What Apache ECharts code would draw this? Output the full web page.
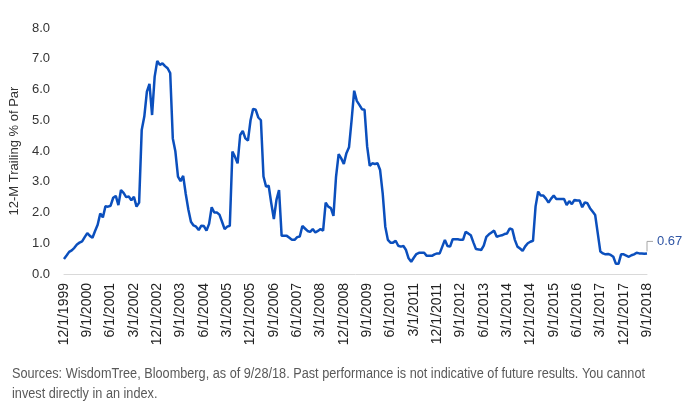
<!DOCTYPE html>
<html>
<head>
<meta charset="utf-8">
<script src="https://cdn.jsdelivr.net/npm/echarts@6/dist/echarts.min.js"></script>
<style>
  html, body { margin: 0; padding: 0; background: #fff; }
  #chart { width: 687px; height: 414px; }
</style>
</head>
<body>
<div id="chart"></div>
<script>
// monthly, 12/1999 .. 9/2018
const startYear = 1999;
const startMonth = 12;
const yTicks = [0, 1, 2, 3, 4, 5, 6, 7, 8];
const yName = '12-M Trailing % of Par';
const footnote = [
  'Sources: WisdomTree, Bloomberg, as of 9/28/18. Past performance is not indicative of future results. You cannot',
  'invest directly in an index.'
];

const trailingPar = [
  0.49, 0.60, 0.72, 0.77, 0.85, 0.96, 1.02, 1.06, 1.20, 1.33,
  1.24, 1.18, 1.40, 1.60, 1.97, 1.84, 2.20, 2.19, 2.22, 2.48,
  2.54, 2.24, 2.73, 2.64, 2.50, 2.52, 2.40, 2.51, 2.19, 2.32,
  4.68, 5.12, 5.93, 6.18, 5.17, 6.42, 6.93, 6.80, 6.85, 6.76,
  6.69, 6.53, 4.41, 3.98, 3.17, 3.02, 3.19, 2.60, 2.10, 1.70,
  1.58, 1.54, 1.43, 1.57, 1.56, 1.41, 1.63, 2.17, 2.00, 2.00,
  1.93, 1.70, 1.46, 1.54, 1.57, 3.98, 3.81, 3.60, 4.52, 4.65,
  4.41, 4.34, 5.00, 5.37, 5.34, 5.09, 5.00, 3.17, 2.84, 2.87,
  2.30, 1.79, 2.41, 2.73, 1.24, 1.24, 1.24, 1.18, 1.11, 1.11,
  1.20, 1.22, 1.56, 1.48, 1.40, 1.37, 1.46, 1.35, 1.40, 1.46,
  1.41, 2.32, 2.19, 2.14, 1.89, 3.17, 3.90, 3.76, 3.58, 3.93,
  4.12, 5.00, 5.96, 5.63, 5.50, 5.36, 5.34, 4.15, 3.52, 3.60,
  3.58, 3.60, 3.38, 2.62, 1.54, 1.11, 1.02, 1.02, 1.08, 0.92,
  0.89, 0.91, 0.78, 0.51, 0.40, 0.53, 0.65, 0.69, 0.69, 0.69,
  0.59, 0.59, 0.59, 0.64, 0.67, 0.67, 0.89, 1.11, 0.91, 0.89,
  1.13, 1.13, 1.13, 1.11, 1.11, 1.37, 1.32, 1.26, 1.03, 0.81,
  0.80, 0.78, 0.92, 1.21, 1.29, 1.35, 1.41, 1.21, 1.24, 1.26,
  1.30, 1.32, 1.48, 1.45, 1.11, 0.89, 0.83, 0.75, 0.90, 1.00,
  1.05, 1.08, 2.20, 2.68, 2.55, 2.55, 2.45, 2.32, 2.45, 2.55,
  2.44, 2.44, 2.44, 2.44, 2.24, 2.37, 2.27, 2.41, 2.39, 2.39,
  2.17, 2.33, 2.30, 2.14, 2.03, 1.92, 1.32, 0.73, 0.67, 0.64,
  0.65, 0.62, 0.56, 0.33, 0.33, 0.64, 0.64, 0.60, 0.56, 0.61,
  0.64, 0.69, 0.67, 0.67, 0.66, 0.67
];

let months = [];
for (let i = 0; i < trailingPar.length; i++) {
  let m = (startMonth - 1 + i) % 12 + 1;
  let y = startYear + Math.floor((startMonth - 1 + i) / 12);
  months.push(m + '/1/' + y);
}

const font = '"Liberation Sans", Arial, sans-serif';
const noteFont = '14px ' + font;
const lineColor = '#0b4fbd';

// the source note uses a condensed face; squeeze the first line to ~633px
let ctx = document.createElement('canvas').getContext('2d');
ctx.font = noteFont;
const noteScale = 633 / ctx.measureText(footnote[0]).width;

let myChart = echarts.init(document.getElementById('chart'));
let option = {
  animation: false,
  grid: { left: 57, right: 40, top: 28, bottom: 140 },
  xAxis: {
    type: 'category',
    data: months,
    boundaryGap: false,
    axisLine: { show: true, lineStyle: { color: '#d9d9d9', width: 1 } },
    axisTick: { show: false },
    axisLabel: {
      interval: 8,
      rotate: 90,
      margin: 9,
      fontSize: 14,
      fontFamily: font,
      color: '#222'
    },
    splitLine: { show: false }
  },
  yAxis: {
    type: 'value',
    min: yTicks[0],
    max: yTicks[yTicks.length - 1],
    interval: 1,
    name: yName,
    nameLocation: 'middle',
    nameGap: 38,
    nameTextStyle: { fontSize: 13, fontFamily: font, color: '#333' },
    axisLine: { show: false },
    axisTick: { show: false },
    splitLine: { show: false },
    axisLabel: {
      margin: 14,
      fontSize: 13,
      fontFamily: font,
      color: '#333',
      formatter: v => v.toFixed(1)
    }
  },
  series: [
    {
      name: yName,
      type: 'line',
      data: trailingPar,
      symbol: 'none',
      lineStyle: { color: lineColor, width: 2.5 },
      z: 3
    }
  ]
};
myChart.setOption(option);

// end label with a small leader line, placed from the chart's own scale
const last = trailingPar.length - 1;
const p = myChart.convertToPixel({ seriesIndex: 0 }, [last, trailingPar[last]]);
myChart.setOption({
  graphic: [
    {
      type: 'polyline',
      shape: { points: [[p[0], p[1] - 2], [p[0], p[1] - 12], [p[0] + 6, p[1] - 12]] },
      style: { stroke: '#a6a6a6', lineWidth: 1, fill: null }
    },
    {
      type: 'text',
      x: p[0] + 10,
      y: p[1] - 12,
      style: {
        text: trailingPar[last].toFixed(2),
        font: '13px ' + font,
        fill: '#2f55a4',
        verticalAlign: 'middle'
      }
    },
    {
      type: 'text',
      x: 12,
      y: 364,
      scaleX: noteScale,
      style: {
        text: footnote.join('\n'),
        font: noteFont,
        fill: '#595959',
        lineHeight: 20
      }
    }
  ]
});
</script>
</body>
</html>
